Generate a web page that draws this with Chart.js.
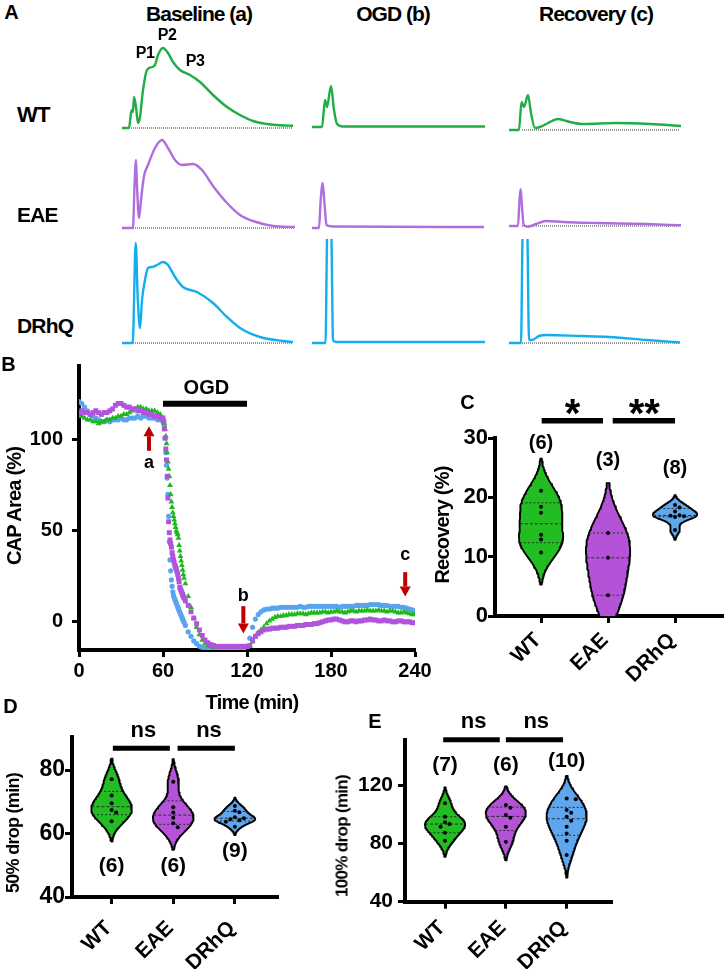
<!DOCTYPE html>
<html>
<head>
<meta charset="utf-8">
<script src="https://cdn.jsdelivr.net/npm/chart.js@4.4.1/dist/chart.umd.min.js"></script>
<style>
  html, body { margin: 0; padding: 0; background: #fff; }
  #fig { position: relative; width: 726px; height: 969px; overflow: hidden;
         font-family: "Liberation Sans", Arial, Helvetica, sans-serif; font-weight: bold; color: #000; }
  #fig canvas { position: absolute; }
  .lbl { position: absolute; white-space: nowrap; line-height: 1; }
</style>
</head>
<body>
<div id="fig"></div>
<script>
// ---------- panel A: CAP traces (time in ms, amplitude in mV) ----------
const wtBaseT  = [0, 0.7, 0.9, 1.0, 1.1, 1.2, 1.4, 1.6, 1.8, 2.1, 2.5, 3.0, 3.3, 3.6, 4.1, 4.6, 5.1, 5.8, 6.8, 7.8, 9.1, 10.5, 11.8, 13.1, 14.5, 15.8, 17.1];
const wtBaseV  = [0, 0, 1.5, 1.8, 1.6, 3.1, 2.1, 0.5, 1.1, 3.8, 5.8, 6.1, 6.3, 7.3, 8.0, 7.5, 6.6, 5.8, 5.3, 4.6, 3.3, 2.1, 1.3, 0.7, 0.4, 0.27, 0.23];
const wtOgdT   = [0, 1.0, 1.3, 1.5, 1.9, 2.2, 2.5, 3.1, 17.3];
const wtOgdV   = [0.1, 0.1, 2.8, 2.1, 4.2, 1.8, 0.4, 0.15, 0.15];
const wtRecT   = [0, 1.0, 1.25, 1.5, 1.9, 2.2, 2.6, 3.1, 3.9, 4.9, 6.1, 7.4, 10.7, 14.1, 17.2];
const wtRecV   = [0, 0, 2.8, 2.3, 3.5, 1.7, 0.2, 0.3, 0.7, 1.1, 0.8, 0.6, 0.7, 0.6, 0.4];

const eaeBaseT = [0, 1.1, 1.25, 1.4, 1.5, 1.7, 1.9, 2.2, 2.6, 3.3, 4.0, 4.6, 5.3, 6.0, 7.1, 8.0, 9.1, 10.5, 11.8, 13.1, 15.1, 17.3];
const eaeBaseV = [0, 0, 4.2, 6.8, 4.2, 1.0, 2.8, 5.2, 6.3, 8.0, 8.8, 8.0, 6.8, 6.3, 6.4, 5.8, 4.2, 2.5, 1.3, 0.7, 0.2, 0.1];
const eaeOgdT  = [0, 0.7, 0.87, 1.07, 1.27, 1.45, 2.1, 17.2];
const eaeOgdV  = [0, 0, 2.8, 4.5, 2.2, 0.3, 0.15, 0.1];
const eaeRecT  = [0, 0.9, 1.05, 1.17, 1.3, 1.47, 1.9, 2.7, 3.7, 5.4, 8.7, 13.7, 17.2];
const eaeRecV  = [0, 0, 2.6, 3.7, 1.9, 0.1, -0.07, 0.2, 0.5, 0.4, 0.3, 0.2, 0.07];

const drBaseT  = [0, 1.07, 1.37, 1.57, 1.8, 2.0, 2.3, 2.6, 3.0, 3.5, 4.1, 4.6, 5.3, 6.1, 7.5, 9.1, 10.5, 11.8, 13.8, 16.1, 17.1];
const drBaseV  = [0, 0, 10.0, 4.6, 1.5, 4.3, 6.3, 7.5, 7.6, 7.8, 8.1, 7.8, 6.6, 5.6, 5.1, 4.0, 2.6, 1.5, 0.6, 0.2, 0.1];
const drOgdT   = [0, 1.35, 1.5, 1.72, 1.95, 2.1, 2.4, 17.3];
const drOgdV   = [0, 0, 10.4, 17, 10.4, 0.3, 0.1, 0.1];
const drRecT   = [0, 1.2, 1.35, 1.6, 1.85, 2.0, 2.3, 3.0, 3.8, 7.1, 10.0, 13.8, 17.1];
const drRecV   = [0, 0, 10.4, 17, 10.4, 0.3, 0.3, 0.7, 0.8, 0.7, 0.6, 0.3, 0.05];

// ---------- panel B: CAP area (%) over time ----------
const minutes = [];
for (let t = 0; t <= 58; t += 2) minutes.push(t);
for (let t = 60; t <= 75; t += 0.5) minutes.push(t);
for (let t = 76; t <= 90; t += 2) minutes.push(t);
for (let t = 92; t <= 240; t += 2) minutes.push(t);

const wtArea = [
  113,113,112,111,111,110,110,109,110,110,111,111,112,112,113,113,114,114,115,116,117,118,118,117,117,116,116,116,115,114,
  112,111,109,106,102,98,93,88,84,80,75,70,66,63,60,58,56,54,52,50,49,48,46,42,39,36,33.5,31,28.5,26,24,
  21,14,8,2,-3,-7,-10,-12,
  -13,-13.5,-14,-14,-14,-14,-14,-14,-14,-14,-14,-14,-14,-14,
  -14,-13.5,-11,-8,-6,-4.5,-3,-1,0.5,1.5,2.5,3,3,3.5,3.5,4,
  4,4,4.5,4.5,4.5,4,4.5,5,5,5,
  5,5.5,5.5,5,5.5,5.5,6,5.5,5.5,5,5.5,6,6,5.5,6,
  6,6,6.5,6,6,6,6.5,6,6,5.5,6,6,5.5,5,5,5.5,5,4.5,4,4
];
const eaeArea = [
  115,116,115,115,114,115,116,115,114,115,115,116,117,119,120,120,119,118,118,117,117,116,116,115,115,114,114,113,113,112,
  112,110,106,101,95,89,80,68,55,49,45,43,41,38,36,34,32.5,31,30,29,27.5,26,24,22,19,18,17,16,15,14,13,
  11.5,9,5.5,2,-1,-4.5,-7.5,-10,
  -11.5,-12.5,-13,-13.5,-13.5,-13.5,-13.5,-13.5,-13.5,-13.5,-13.5,-13.5,-13.5,-13.5,
  -13.5,-13,-10,-8,-6.5,-5.5,-4.5,-4,-4,-3.5,-3.5,-3.5,-3,-3,-3,-2.5,
  -2.5,-2.5,-2,-2,-2,-1.5,-1.5,-1.5,-1,-1,
  -0.5,0,0.5,1,1,1.5,1.5,1,0.5,0,0,0.5,0.5,0,0.5,
  0.5,1,1,1.5,1,1,0.5,0.5,1,0.5,0.5,0,0,0.5,0.5,0,0,0,-0.5,-0.5
];
const drhqArea = [
  121,120,118,116,114,113,112,111,110,110,111,110,111,111,111,112,111,111,112,112,112,113,112,113,113,112,112,112,111,111,
  110,109,107,101,93,86,79,70,58,44,34,28,23,19.5,16.5,14.5,13.3,12.2,11.2,10.2,9.2,8.2,7.2,6.2,5.2,4.3,3.4,2.5,1.6,0.7,-0.2,
  -2,-5.5,-8,-10.5,-12,-13.5,-14,-14.5,
  -14.5,-14.5,-14.5,-14.5,-14.5,-14.5,-14.5,-14.5,-14.5,-14.5,-14.5,-14.5,-14.5,-14.5,
  -13.5,-9,-3,1.5,4,5.5,6.5,7,7,7.5,7.5,7.5,8,8,8,8,
  8,8,8,8.5,8,8,8.5,8.5,8.5,8.5,
  8.5,8.5,8.5,8.5,8.5,8.5,8.5,8,8.5,8.5,8.5,8.5,8.5,9,9,
  9,9,9,9.5,9.5,9.5,9.5,9,9,9,8.5,8.5,8.5,8.5,8,8,7.5,7,6.5,6
];
const timeTicks = [0, 60, 120, 180, 240];
const areaTicks = [0, 50, 100];

// ---------- panels C, D, E: per-animal values ----------
const groups = ['WT', 'EAE', 'DRhQ'];
const recoveryWT   = [21.1, 18.4, 17.4, 13.7, 12.9, 10.7];
const recoveryEAE  = [14.0, 9.8, 3.5];
const recoveryDRhQ = [18.7, 18.3, 17.6, 17.0, 16.9, 16.8, 16.7, 14.5];
const recoveryTicks = [0, 10, 20, 30];

const drop50WT   = [77.1, 72.0, 69.5, 67.4, 66.6, 63.9];
const drop50EAE  = [76.3, 68.3, 66.6, 65.0, 63.2, 62.0];
const drop50DRhQ = [68.7, 67.2, 66.7, 65.1, 64.8, 64.5, 64.2, 63.7, 62.1];
const drop50Ticks = [40, 60, 80];

const drop100WT   = [107.5, 98.3, 94.5, 93.3, 91.4, 87.3, 81.8];
const drop100EAE  = [106.3, 104.5, 99.5, 97.6, 91.4, 81.2];
const drop100DRhQ = [110.9, 110.4, 102.9, 101.0, 98.3, 95.6, 91.4, 86.9, 81.8, 72.0];
const drop100Ticks = [40, 80, 120];

// ---------- styling ----------
const FONT = '"Liberation Sans", Arial, Helvetica, sans-serif';
const traceColors = ['#1fae45', '#b06de0', '#12aef0'];
const areaColors  = ['#1cb91c', '#b054dc', '#58a4ee'];
const violinFill  = ['#22bd22', '#b553d8', '#5ea7ef'];
const arrowRed = '#c00000';

const fig = document.getElementById('fig');

function addCanvas(l, t, w, h) {
  const c = document.createElement('canvas');
  c.width = w; c.height = h;
  c.style.left = l + 'px'; c.style.top = t + 'px';
  c.style.width = w + 'px'; c.style.height = h + 'px';
  fig.appendChild(c);
  return c;
}

function addLabel(l) {
  const d = document.createElement('div');
  d.className = 'lbl';
  d.textContent = l.t;
  d.style.fontSize = l.s + 'px';
  d.style.left = l.x + 'px';
  d.style.top = l.y + 'px';
  d.style.letterSpacing = (l.ls != null ? l.ls : -0.04 * l.s) + 'px';
  d.style.transform = 'translate(' + (l.left ? '0' : '-50%') + ',-50%)' + (l.rot ? ' rotate(-90deg)' : '');
  fig.appendChild(d);
}

const xy = (xs, ys) => xs.map((x, i) => ({ x, y: ys[i] }));

// bars, arrows and texts placed in data coordinates
Chart.register({
  id: 'notes',
  afterDatasetsDraw(chart, args, o) {
    if (!o) return;
    const { ctx } = chart;
    const sx = chart.scales.x, sy = chart.scales.y;
    const X = v => sx.getPixelForValue(v), Y = v => sy.getPixelForValue(v);
    ctx.save();
    (o.bars || []).forEach(b => {
      ctx.strokeStyle = '#000'; ctx.lineWidth = b.w; ctx.lineCap = 'butt';
      ctx.beginPath(); ctx.moveTo(X(b.x0), Y(b.y)); ctx.lineTo(X(b.x1), Y(b.y)); ctx.stroke();
    });
    (o.arrows || []).forEach(a => {
      const x = X(a.x), y0 = Y(a.from), y1 = Y(a.to);
      const dir = Math.sign(y1 - y0), hb = y1 - dir * 10;
      ctx.fillStyle = arrowRed;
      ctx.fillRect(x - 2, Math.min(y0, hb), 4, Math.abs(hb - y0));
      ctx.beginPath(); ctx.moveTo(x - 5.5, hb); ctx.lineTo(x + 5.5, hb); ctx.lineTo(x, y1); ctx.closePath(); ctx.fill();
    });
    (o.texts || []).forEach(t => {
      ctx.fillStyle = '#000';
      ctx.font = 'bold ' + t.size + 'px ' + FONT;
      ctx.textAlign = 'center';
      ctx.textBaseline = t.base || 'middle';
      ctx.fillText(t.text, X(t.x), Y(t.y));
    });
    ctx.restore();
  }
});

// ---------- panel A ----------
const traces = [
  { t: wtBaseT,  v: wtBaseV,  left: 122, base: 128, top: 9,    c: 0, zero: [0.9, 17.1] },
  { t: wtOgdT,   v: wtOgdV,   left: 312, base: 128, top: 9,    c: 0 },
  { t: wtRecT,   v: wtRecV,   left: 509, base: 130, top: 9,    c: 0, zero: [1.3, 17.1] },
  { t: eaeBaseT, v: eaeBaseV, left: 122, base: 228, top: 9.5,  c: 1, zero: [1.1, 17.3] },
  { t: eaeOgdT,  v: eaeOgdV,  left: 312, base: 228, top: 9.5,  c: 1 },
  { t: eaeRecT,  v: eaeRecV,  left: 509, base: 226, top: 9.5,  c: 1, zero: [1.3, 17.1] },
  { t: drBaseT,  v: drBaseV,  left: 122, base: 343, top: 10.4, c: 2, zero: [1.1, 17.1] },
  { t: drOgdT,   v: drOgdV,   left: 312, base: 343, top: 10.4, c: 2 },
  { t: drRecT,   v: drRecV,   left: 509, base: 343, top: 10.4, c: 2, zero: [1.3, 17.1] }
];

traces.forEach(tr => {
  const cv = addCanvas(tr.left, tr.base - tr.top * 10, 175, (tr.top + 0.6) * 10);
  const ds = [{
    data: xy(tr.t, tr.v), showLine: true, borderColor: traceColors[tr.c], borderWidth: 2.4,
    pointRadius: 0, cubicInterpolationMode: 'monotone', fill: false
  }];
  if (tr.zero) ds.push({
    data: tr.zero.map(t => ({ x: t, y: 0 })), showLine: true, borderColor: '#555',
    borderWidth: 1.2, borderDash: [1, 1], pointRadius: 0
  });
  new Chart(cv, {
    type: 'scatter',
    data: { datasets: ds },
    options: {
      responsive: false, animation: false, events: [],
      layout: { autoPadding: false, padding: 0 },
      plugins: { legend: { display: false }, tooltip: { enabled: false } },
      scales: {
        x: { type: 'linear', display: false, min: 0, max: 17.5 },
        y: { type: 'linear', display: false, min: -0.6, max: tr.top }
      }
    }
  });
});

// ---------- shared axis options ----------
function axisOptions(p) {
  const c = p.canvas, a = p.area;
  const tickFont = s => ({ family: FONT, weight: 'bold', size: s });
  return {
    responsive: false, animation: false, events: [],
    layout: { autoPadding: false, padding: { left: 0, top: a.top - c.top, right: c.left + c.width - a.right, bottom: 0 } },
    plugins: { legend: { display: false }, tooltip: { enabled: false }, notes: p.notes },
    scales: {
      x: {
        type: 'linear', min: p.x[0], max: p.x[1],
        afterFit: s => { s.height = c.top + c.height - a.bottom; },
        afterBuildTicks: s => { s.ticks = p.xTicks.map(v => ({ value: v })); },
        border: { color: '#000', width: 4 },
        grid: { drawOnChartArea: false, drawTicks: true, tickLength: 7, tickWidth: 3, tickColor: '#000' },
        ticks: {
          color: '#000', font: tickFont(p.xFont), padding: p.xPad, autoSkip: false,
          minRotation: p.rot, maxRotation: p.rot, labelOffset: p.xShift || 0,
          callback: p.xLabel
        }
      },
      y: {
        type: 'linear', min: p.y[0], max: p.y[1],
        afterFit: s => { s.width = a.left - c.left; },
        afterBuildTicks: s => { s.ticks = p.yTicks.map(v => ({ value: v })); },
        border: { color: '#000', width: 4 },
        grid: { drawOnChartArea: false, drawTicks: true, tickLength: 7, tickWidth: 3, tickColor: '#000' },
        ticks: { color: '#000', font: tickFont(p.yFont), padding: p.yPad }
      }
    }
  };
}

// ---------- panel B ----------
const panelB = {
  canvas: { left: 0, top: 345, width: 440, height: 375 },
  area: { left: 79, right: 415, top: 358, bottom: 650 },
  x: [0, 240], y: [-15.5, 140.6],
  xTicks: timeTicks, yTicks: areaTicks, xFont: 20, yFont: 20, xPad: 2.5, yPad: 9, rot: 0,
  xLabel: v => v,
  notes: {
    bars: [{ x0: 60, x1: 120, y: 119.8, w: 6 }],
    arrows: [{ x: 50, from: 94, to: 107.5 }, { x: 117.4, from: 8.6, to: -6.4 }, { x: 233, from: 27.3, to: 13.9 }],
    texts: [
      { text: 'OGD', x: 91, y: 128.3, size: 20 },
      { text: 'a', x: 50, y: 87, size: 18 },
      { text: 'b', x: 117.4, y: 14.4, size: 18 },
      { text: 'c', x: 233, y: 36.7, size: 18 }
    ]
  }
};
{
  const c = panelB.canvas;
  const cv = addCanvas(c.left, c.top, c.width, c.height);
  const pt = (vals, i, style, r) => ({
    data: xy(minutes, vals), pointStyle: style, pointRadius: r,
    pointBackgroundColor: areaColors[i], pointBorderWidth: 0, showLine: false
  });
  new Chart(cv, {
    type: 'scatter',
    data: { datasets: [
      pt(eaeArea, 1, 'rect', 3.5),
      pt(wtArea, 0, 'triangle', 3.4),
      pt(drhqArea, 2, 'circle', 2.6)
    ] },
    options: axisOptions(panelB)
  });
}

// ---------- violin panels ----------
function kde(vals) {
  const n = vals.length;
  const mean = vals.reduce((a, b) => a + b, 0) / n;
  const sd = Math.sqrt(vals.reduce((a, b) => a + (b - mean) ** 2, 0) / (n - 1));
  const h = 0.9 * sd * Math.pow(n, -0.2);
  const lo = Math.min(...vals) - 2.2 * h, hi = Math.max(...vals) + 2.2 * h;
  const ys = [], ds = [];
  for (let i = 0; i <= 90; i++) {
    const y = lo + (hi - lo) * i / 90;
    let d = 0;
    vals.forEach(v => { d += Math.exp(-0.5 * ((y - v) / h) ** 2); });
    ys.push(y); ds.push(d);
  }
  const m = Math.max(...ds);
  return { ys, ws: ds.map(d => d / m) };
}
function widthAt(k, y) {
  for (let i = 1; i < k.ys.length; i++) {
    if (y <= k.ys[i]) {
      const f = (y - k.ys[i - 1]) / (k.ys[i] - k.ys[i - 1]);
      return k.ws[i - 1] + f * (k.ws[i] - k.ws[i - 1]);
    }
  }
  return 0;
}
function quantile(sorted, p) {
  const n = sorted.length, pos = (n + 1) * p;
  if (pos <= 1) return sorted[0];
  if (pos >= n) return sorted[n - 1];
  const lo = Math.floor(pos);
  return sorted[lo - 1] + (pos - lo) * (sorted[lo] - sorted[lo - 1]);
}
function swarm(vals, gi, px, py) {
  const placed = [], out = [];
  vals.slice().sort((a, b) => b - a).forEach(v => {
    const y = v * py;
    for (let k = 0; k < 30; k++) {
      const off = (k % 2 ? 1 : -1) * Math.ceil(k / 2) * 4.5;
      if (placed.every(p => Math.hypot(p.x - off, p.y - y) >= 4.6)) {
        placed.push({ x: off, y });
        out.push({ x: gi + off / px, y: v });
        break;
      }
    }
  });
  return out;
}

function violinPanel(p) {
  const ds = [];
  const W = 0.33;
  p.data.forEach((vals, gi) => {
    const k = kde(vals);
    const left = k.ys.map((y, i) => ({ x: gi - W * k.ws[i], y }));
    const right = k.ys.map((y, i) => ({ x: gi + W * k.ws[i], y })).reverse();
    ds.push({
      data: left.concat(right, [left[0]]), showLine: true, fill: 'shape',
      backgroundColor: violinFill[gi], borderColor: '#000', borderWidth: 1.9,
      borderJoinStyle: 'round', pointRadius: 0, order: 3
    });
    const sorted = vals.slice().sort((a, b) => a - b);
    [0.25, 0.5, 0.75].forEach(q => {
      const qv = quantile(sorted, q), w = W * widthAt(k, qv);
      ds.push({
        data: [{ x: gi - w, y: qv }, { x: gi + w, y: qv }], showLine: true,
        borderColor: '#2a2a2a', borderWidth: 1, borderDash: q === 0.5 ? [3, 2] : [2, 2],
        pointRadius: 0, order: 2
      });
    });
    ds.push({
      data: swarm(vals, gi, p.px, p.py), showLine: false, pointRadius: 2,
      pointBackgroundColor: '#000', pointBorderWidth: 0, order: 1
    });
    p.notes.texts.push({ text: '(' + vals.length + ')', x: gi, y: p.nY[gi], size: p.nSize });
  });
  const c = p.canvas;
  const cv = addCanvas(c.left, c.top, c.width, c.height);
  new Chart(cv, { type: 'scatter', data: { datasets: ds }, options: axisOptions(p) });
}

const catCommon = { xTicks: [0, 1, 2], xLabel: v => groups[v], rot: 45, xFont: 21, xShift: -3 };

violinPanel(Object.assign({}, catCommon, {
  canvas: { left: 425, top: 385, width: 301, height: 300 },
  area: { left: 495, right: 723, top: 438, bottom: 616 },
  x: [-0.687, 2.716], y: [0, 30], yTicks: recoveryTicks, yFont: 22, yPad: 0, xPad: 5,
  px: 67, py: 5.93, data: [recoveryWT, recoveryEAE, recoveryDRhQ],
  nY: [29.1, 26.2, 24.9], nSize: 20,
  notes: {
    bars: [{ x0: 0.01, x1: 0.925, y: 32.9, w: 5.5 }, { x0: 1.07, x1: 2.0, y: 32.9, w: 5.5 }],
    texts: [
      { text: '*', x: 0.47, y: 31.9, size: 40, base: 'alphabetic' },
      { text: '**', x: 1.54, y: 31.9, size: 40, base: 'alphabetic' }
    ]
  }
}));

violinPanel(Object.assign({}, catCommon, {
  canvas: { left: 0, top: 690, width: 290, height: 279 },
  area: { left: 72, right: 278, top: 736.7, bottom: 897 },
  x: [-0.643, 2.70], y: [40, 90.5], yTicks: drop50Ticks, yFont: 23, yPad: 0, xPad: 12,
  px: 61.6, py: 3.175, data: [drop50WT, drop50EAE, drop50DRhQ],
  nY: [49.7, 49.7, 54.4], nSize: 21,
  notes: {
    bars: [{ x0: 0.02, x1: 0.945, y: 86.9, w: 5 }, { x0: 1.07, x1: 2.0, y: 86.9, w: 5 }],
    texts: [
      { text: 'ns', x: 0.515, y: 92.3, size: 22 },
      { text: 'ns', x: 1.58, y: 92.3, size: 22 }
    ]
  }
}));

violinPanel(Object.assign({}, catCommon, {
  canvas: { left: 330, top: 690, width: 300, height: 279 },
  area: { left: 405, right: 612, top: 740, bottom: 901.7 },
  x: [-0.658, 2.745], y: [40, 151], yTicks: drop100Ticks, yFont: 21, yPad: 5, xPad: 7,
  px: 60.8, py: 1.457, data: [drop100WT, drop100EAE, drop100DRhQ],
  nY: [133.6, 133.6, 136.3], nSize: 21,
  notes: {
    bars: [{ x0: -0.03, x1: 0.9, y: 151.2, w: 5 }, { x0: 1.0, x1: 1.94, y: 151.2, w: 5 }],
    texts: [
      { text: 'ns', x: 0.47, y: 163.2, size: 22 },
      { text: 'ns', x: 1.5, y: 163.2, size: 22 }
    ]
  }
}));

// ---------- text labels ----------
[
  { t: 'A', x: 11, y: 12, s: 20 },
  { t: 'Baseline (a)', x: 199, y: 13, s: 21, ls: -1 },
  { t: 'OGD (b)', x: 393, y: 13, s: 21, ls: -1 },
  { t: 'Recovery (c)', x: 596, y: 13, s: 21, ls: -1 },
  { t: 'P1', x: 145, y: 52.5, s: 16 },
  { t: 'P2', x: 167, y: 35, s: 16 },
  { t: 'P3', x: 195, y: 61, s: 16 },
  { t: 'WT', x: 17, y: 115, s: 22, left: true },
  { t: 'EAE', x: 17, y: 214, s: 21, left: true },
  { t: 'DRhQ', x: 17, y: 325, s: 21, left: true },
  { t: 'B', x: 8, y: 364, s: 20 },
  { t: 'CAP Area (%)', x: 14, y: 506, s: 20, rot: true },
  { t: 'Time (min)', x: 252, y: 702, s: 20 },
  { t: 'C', x: 467, y: 402, s: 20 },
  { t: 'Recovery (%)', x: 442, y: 525, s: 20, rot: true },
  { t: 'D', x: 10, y: 705.5, s: 20 },
  { t: '50% drop (min)', x: 13, y: 833, s: 18, rot: true },
  { t: 'E', x: 374.5, y: 720.5, s: 20 },
  { t: '100% drop (min)', x: 342, y: 836, s: 17, rot: true }
].forEach(addLabel);
</script>
</body>
</html>
